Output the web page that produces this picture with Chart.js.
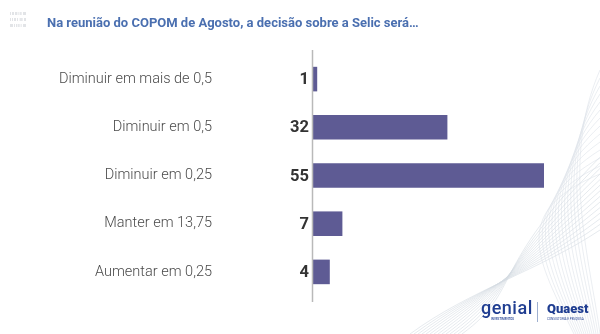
<!DOCTYPE html>
<html>
<head>
<meta charset="utf-8">
<script src="https://cdn.jsdelivr.net/npm/chart.js@4.4.0/dist/chart.umd.min.js"></script>
<style>
  html, body { margin: 0; padding: 0; background: #fff; }
  #wrap { position: relative; width: 600px; height: 334px; overflow: hidden; font-family: Roboto, sans-serif; }
  #waves { position: absolute; left: 0; top: 0; }
  #chart { position: absolute; left: 0; top: 0; }
  #title { position: absolute; left: 47px; top: 15px; font-size: 13px; font-weight: 700; color: #4a6fb0; white-space: nowrap; }
  #mini { position: absolute; left: 10px; top: 11px; font-size: 4px; line-height: 6px; color: #b8bcc4; }
  #genial { position: absolute; left: 481px; top: 297px; font-size: 18px; font-weight: 500; color: #1f3d91; letter-spacing: 0.5px; }
  #genial small { position: absolute; left: 10px; top: 20px; font-size: 3px; color: #1f3d91; letter-spacing: 0; }
  #sep { position: absolute; left: 537px; top: 302px; width: 1px; height: 20px; background: #9fb0d0; }
  #quaest { position: absolute; left: 547px; top: 301px; font-size: 13px; font-weight: 900; color: #1f3d91; }
  #quaest small { position: absolute; left: 0; top: 16px; font-size: 3px; font-weight: 400; color: #1f3d91; white-space: nowrap; }
</style>
</head>
<body>
<div id="wrap">
  <svg id="waves" width="600" height="334" viewBox="0 0 600 334"></svg>
  <canvas id="chart" width="600" height="334"></canvas>
  <div id="mini">I II III II III<br>I I II I III II<br>III I III I III</div>
  <div id="title">Na reunião do COPOM de Agosto, a decisão sobre a Selic será…</div>
  <div id="genial">genial<small>INVESTIMENTOS</small></div>
  <div id="sep"></div>
  <div id="quaest">Quaest<small>CONSULTORIA E PESQUISA</small></div>
</div>
<script>
// answers and vote counts
const categories = [
  "Diminuir em mais de 0,5",
  "Diminuir em 0,5",
  "Diminuir em 0,25",
  "Manter em 13,75",
  "Aumentar em 0,25"
];
const votes = [1, 32, 55, 7, 4];
const xMax = 60;

// faint decorative curves, bottom right
const svg = document.getElementById("waves");
let paths = "";
for (let i = 0; i < 14; i++) {
  const d = i * 4;
  paths += `<path d="M ${410 + d} 334 C ${470 + d} 290, ${540 - d} 270, 600 ${230 - d * 1.4}" stroke="#d5dbe3" stroke-width="0.6" fill="none"/>`;
  paths += `<path d="M 600 ${70 + d * 2} C ${560 - d} ${160 + d}, ${590 - d} 260, ${600 - d * 0.5} 334" stroke="#dde2ea" stroke-width="0.6" fill="none"/>`;
}
svg.innerHTML = paths;

const labelPlugin = {
  id: "labels",
  afterDraw(chart) {
    const { ctx, chartArea } = chart;
    const y = chart.scales.y;
    // axis line, a bit longer than the plot area
    ctx.save();
    ctx.strokeStyle = "#b9b9b9";
    ctx.lineWidth = 1.5;
    ctx.beginPath();
    ctx.moveTo(chartArea.left - 0.5, chartArea.top - 5);
    ctx.lineTo(chartArea.left - 0.5, chartArea.bottom + 6);
    ctx.stroke();

    ctx.textAlign = "right";
    ctx.textBaseline = "middle";
    categories.forEach((c, i) => {
      const py = y.getPixelForValue(i);
      ctx.font = "300 14.5px Roboto";
      ctx.fillStyle = "#4a4a4a";
      ctx.fillText(c, 212, py);
      ctx.font = "700 16.5px Roboto";
      ctx.fillStyle = "#333333";
      ctx.fillText(String(votes[i]), chartArea.left - 4, py + 1);
    });
    ctx.restore();
  }
};

new Chart(document.getElementById("chart"), {
  type: "bar",
  data: {
    labels: categories,
    datasets: [{
      data: votes,
      backgroundColor: "#5e5b94",
      barPercentage: 0.51,
      categoryPercentage: 1
    }]
  },
  options: {
    indexAxis: "y",
    responsive: false,
    animation: false,
    layout: { padding: { left: 313, right: 35, top: 55, bottom: 38 } },
    plugins: { legend: { display: false }, tooltip: { enabled: false } },
    scales: {
      x: { display: false, min: 0, max: xMax },
      y: { display: false }
    }
  },
  plugins: [labelPlugin]
});
</script>
</body>
</html>
